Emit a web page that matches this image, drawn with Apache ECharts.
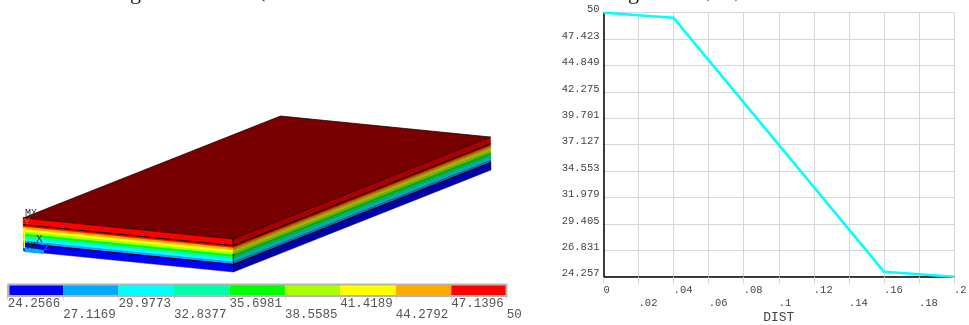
<!DOCTYPE html>
<html>
<head>
<meta charset="utf-8">
<title>Plate temperature</title>
<style>
html, body { margin: 0; padding: 0; background: #fff; }
#chart { width: 969px; height: 325px; }
</style>
<script src="https://cdn.jsdelivr.net/npm/echarts@6/dist/echarts.min.js"></script>
</head>
<body>
<div id="chart"></div>
<script>
// temperature through the plate thickness
const dist = [0, 0.04, 0.16, 0.2]
const temp = [50, 49.5, 24.75, 24.257]
const distTicks = [0, 0.02, 0.04, 0.06, 0.08, 0.1, 0.12, 0.14, 0.16, 0.18, 0.2]
const distLabels = ['0', '.02', '.04', '.06', '.08', '.1', '.12', '.14', '.16', '.18', '.2']
const tempTicks = [24.257, 26.831, 29.405, 31.979, 34.553, 37.127, 39.701, 42.275, 44.849, 47.423, 50]

// contour legend
const levels = [24.2566, 27.1169, 29.9773, 32.8377, 35.6981, 38.5585, 41.4189, 44.2792, 47.1396, 50]
const levelLabels = ['24.2566', '27.1169', '29.9773', '32.8377', '35.6981', '38.5585', '41.4189', '44.2792', '47.1396', '50']
const bandColors = ['#0000ff', '#00aaff', '#00ffff', '#00ffaa', '#00ff00', '#aaff00', '#ffff00', '#ffaa00', '#ff0000']

// plate layers, and where the front edge line shows
const layerLines = [0.04, 0.155]
const frontEdge = [[0, 0.04], [0.09, 0.2]]

const MONO = '"Liberation Mono", "DejaVu Sans Mono", monospace'
const SERIF = '"Liberation Serif", serif'

// depth in the plate where the profile reaches a temperature
function depthAt(t) {
    for (let i = 1; i < dist.length; i++) {
        if (t >= temp[i]) {
            return dist[i - 1] + (temp[i - 1] - t) / (temp[i - 1] - temp[i]) * (dist[i] - dist[i - 1])
        }
    }
    return dist[dist.length - 1]
}

// scene axes run in picture units, so this is just the view of the plate
function project(a, b, d) {
    return [233 + a * 257.5 - b * 210 + d * 2.5, 239 - a * 102 - b * 21 + d * 165]
}

function shade(hex) {
    const n = parseInt(hex.slice(1), 16)
    const f = c => Math.round(c * 0.67)
    return 'rgb(' + f(n >> 16) + ',' + f((n >> 8) & 255) + ',' + f(n & 255) + ')'
}

function quad(api, pts, fill) {
    return {
        type: 'polygon',
        shape: { points: pts.map(p => api.coord(p)) },
        style: { fill: fill, stroke: fill, lineWidth: 0.5 }
    }
}

function edge(api, p, q, width) {
    const a = api.coord(p)
    const b = api.coord(q)
    return {
        type: 'line',
        shape: { x1: a[0], y1: a[1], x2: b[0], y2: b[1] },
        style: { stroke: '#000', lineWidth: width || 0.8 }
    }
}

function renderBandFaces(params, api) {
    const i = api.value(0)
    const d0 = i === bandColors.length - 1 ? 0 : depthAt(levels[i + 1])
    const d1 = i === 0 ? 0.2 : depthAt(levels[i])
    return {
        type: 'group',
        children: [
            quad(api, [project(0, 1, d0), project(0, 0, d0), project(0, 0, d1), project(0, 1, d1)], bandColors[i]),
            quad(api, [project(0, 0, d0), project(1, 0, d0), project(1, 0, d1), project(0, 0, d1)], shade(bandColors[i]))
        ]
    }
}

function renderPlateTop(params, api) {
    const children = [{
        type: 'polygon',
        shape: { points: [project(0, 0, 0), project(1, 0, 0), project(1, 1, 0), project(0, 1, 0)].map(p => api.coord(p)) },
        style: { fill: '#780000', stroke: '#000', lineWidth: 0.7 }
    }]
    layerLines.forEach(d => {
        children.push(edge(api, project(0, 1, d), project(0, 0, d), 1))
        children.push(edge(api, project(0, 0, d), project(1, 0, d), 1))
    })
    frontEdge.forEach(s => children.push(edge(api, project(0, 0, s[0]), project(0, 0, s[1]), 1)))
    return { type: 'group', children: children }
}

function renderLegendBand(params, api) {
    const i = api.value(0)
    const a = api.coord([levels[i], 0])
    const b = api.coord([levels[i + 1], 1])
    return {
        type: 'rect',
        shape: { x: a[0], y: b[1], width: b[0] - a[0], height: a[1] - b[1] },
        style: { fill: bandColors[i] }
    }
}

const bandIndex = bandColors.map((c, i) => [i])

const mychart = echarts.init(document.getElementById('chart'), null, { renderer: 'canvas' })
mychart.setOption({
    animation: false,
    backgroundColor: '#fff',
    grid: [
        { left: 603.5, top: 12.7, width: 350.5, height: 264, outerBoundsMode: 'none' },
        { left: 0, top: 0, width: 520, height: 325, outerBoundsMode: 'none' },
        { left: 7.7, top: 285, width: 499, height: 10.5, outerBoundsMode: 'none' }
    ],
    xAxis: [
        {
            type: 'value',
            gridIndex: 0,
            min: 0,
            max: 0.2,
            name: 'DIST',
            nameLocation: 'middle',
            nameGap: 34,
            nameMoveOverlap: false,
            nameTextStyle: { fontFamily: MONO, fontSize: 13, color: '#444' },
            axisLine: { lineStyle: { color: '#000', width: 1.5 } },
            axisTick: { show: true, length: 7, lineStyle: { color: '#d6d6d6' }, customValues: distTicks },
            splitLine: { show: true, lineStyle: { color: '#d6d6d6' } },
            axisLabel: {
                customValues: distTicks,
                align: 'left',
                margin: 7,
                lineHeight: 13,
                fontFamily: MONO,
                fontSize: 10.5,
                color: '#444',
                formatter: v => {
                    const i = distTicks.indexOf(v)
                    return (i % 2 ? '\n' : '') + distLabels[i]
                }
            }
        },
        { type: 'value', gridIndex: 1, min: 0, max: 520, show: false },
        {
            type: 'value',
            gridIndex: 2,
            min: levels[0],
            max: levels[levels.length - 1],
            axisLine: { show: false },
            splitLine: { show: false },
            axisTick: { show: true, length: 4, lineStyle: { color: '#d0d0d0' }, customValues: levels },
            axisLabel: {
                customValues: levels,
                align: 'left',
                margin: 3,
                lineHeight: 11,
                fontFamily: MONO,
                fontSize: 12.5,
                color: '#555',
                formatter: v => {
                    const i = levels.indexOf(v)
                    return (i % 2 ? '\n' : '') + levelLabels[i]
                }
            }
        }
    ],
    yAxis: [
        {
            type: 'value',
            gridIndex: 0,
            min: tempTicks[0],
            max: tempTicks[tempTicks.length - 1],
            axisLine: { show: true, lineStyle: { color: '#000', width: 1.5 } },
            axisTick: { show: false, customValues: tempTicks },
            splitLine: { show: true, lineStyle: { color: '#d6d6d6' } },
            axisLabel: {
                customValues: tempTicks,
                margin: 4,
                verticalAlign: 'bottom',
                lineHeight: 6,
                fontFamily: MONO,
                fontSize: 10.5,
                color: '#444',
                formatter: v => String(v)
            }
        },
        { type: 'value', gridIndex: 1, min: 0, max: 325, inverse: true, show: false },
        { type: 'value', gridIndex: 2, min: 0, max: 1, show: false }
    ],
    series: [
        {
            type: 'line',
            xAxisIndex: 0,
            yAxisIndex: 0,
            data: dist.map((d, i) => [d, temp[i]]),
            showSymbol: false,
            clip: false,
            lineStyle: { color: '#00ffff', width: 2.5 }
        },
        {
            type: 'custom',
            xAxisIndex: 1,
            yAxisIndex: 1,
            clip: false,
            data: bandIndex,
            encode: { x: 0 },
            renderItem: renderBandFaces
        },
        {
            type: 'custom',
            xAxisIndex: 1,
            yAxisIndex: 1,
            clip: false,
            data: [[0]],
            encode: { x: 0 },
            z: 3,
            renderItem: renderPlateTop
        },
        {
            type: 'custom',
            xAxisIndex: 2,
            yAxisIndex: 2,
            clip: false,
            data: bandIndex,
            encode: { x: 0 },
            renderItem: renderLegendBand
        }
    ],
    graphic: [
        // grey frame of the legend bar
        { type: 'rect', z: 10, shape: { x: 8.5, y: 284.5, width: 498, height: 11.5 }, style: { fill: 'none', stroke: '#b4b4b4', lineWidth: 2 } },
        // corner of the model and the triad drawn over it
        { type: 'polygon', z: 10, shape: { points: [[24, 247], [44, 250], [44, 254], [25, 252]] }, style: { fill: '#00aaff' } },
        { type: 'rect', z: 10, shape: { x: 23.5, y: 228, width: 1.5, height: 20 }, style: { fill: '#ffff00' } },
        { type: 'text', z: 11, left: 25, top: 208, style: { text: 'MX', font: '10px ' + MONO, fill: '#333' } },
        { type: 'text', z: 11, left: 24, top: 217, style: { text: 'Y', font: '10px ' + MONO, fill: '#c07000' } },
        { type: 'text', z: 11, left: 36, top: 234, style: { text: 'X', font: '11px ' + MONO, fill: '#222' } },
        { type: 'text', z: 11, left: 27, top: 241, style: { text: 'MN', font: '10px ' + MONO, fill: '#222' } },
        { type: 'text', z: 11, left: 44, top: 243, style: { text: 'Z', font: '9px ' + MONO, fill: '#0070e0' } },
        // bottom of a caption that is cut off by the top edge
        { type: 'text', z: 11, x: 130, y: -18, style: { text: 'g', font: '22px ' + SERIF, fill: '#111' } },
        { type: 'text', z: 11, x: 258, y: -20, style: { text: '(', font: '22px ' + SERIF, fill: '#111' } },
        { type: 'text', z: 11, x: 628, y: -18, style: { text: 'g', font: '22px ' + SERIF, fill: '#111' } },
        { type: 'text', z: 11, x: 706, y: -19, style: { text: ',', font: '22px ' + SERIF, fill: '#555' } },
        { type: 'text', z: 11, x: 734, y: -19, style: { text: ',', font: '22px ' + SERIF, fill: '#555' } }
    ]
})
</script>
</body>
</html>
